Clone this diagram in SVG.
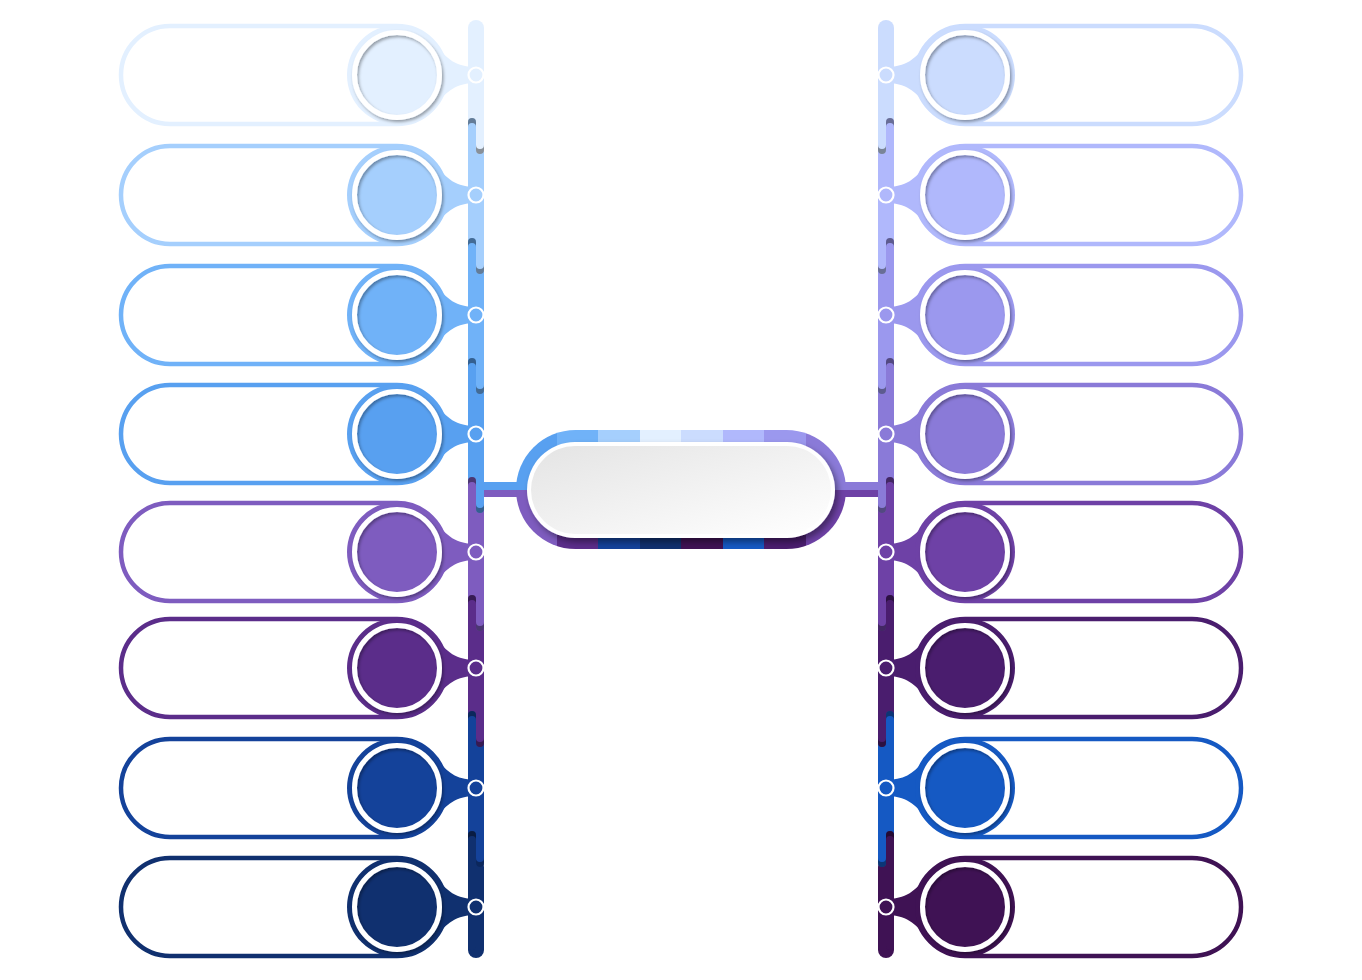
<svg xmlns="http://www.w3.org/2000/svg" xmlns:xlink="http://www.w3.org/1999/xlink" width="1362" height="980" viewBox="0 0 1362 980">
<style>
.pill{fill:#fff;stroke-width:4.5}
.ring{fill:none;stroke:#fff;stroke-width:5;filter:url(#sh)}
.node{stroke:#fff;stroke-width:2.2}
.cap{fill:#000;fill-opacity:.4}
</style>
<defs>
<filter id="sh" x="-20%" y="-20%" width="140%" height="140%"><feDropShadow dx="1.5" dy="2" stdDeviation="1.5" flood-color="#000" flood-opacity="0.35"/></filter>
<filter id="psh" x="-10%" y="-20%" width="120%" height="150%"><feDropShadow dx="3" dy="4" stdDeviation="3" flood-color="#000" flood-opacity="0.4"/></filter>
<linearGradient id="wg" x1="0" y1="0" x2="1" y2="1"><stop offset="0" stop-color="#E4E4E4"/><stop offset="1" stop-color="#FFFFFF"/></linearGradient>
<clipPath id="cp"><rect x="516" y="430" width="330" height="119" rx="59.5"/></clipPath>
<path id="ct" class="cap" d="M0,4 A4,4 0 0 1 8,4 L8,9 A4,4 0 0 0 0,9 Z"/>
<path id="cb" class="cap" d="M0,-4 A4,4 0 0 0 8,-4 L8,-9 A4,4 0 0 1 0,-9 Z"/>
</defs>
<rect width="1362" height="980" fill="#fff"/>
<g id="connectors">
<rect x="480" y="482" width="42" height="8" fill="#58A0F0"/>
<rect x="480" y="490" width="42" height="7" fill="#7E5CBF"/>
<rect x="840" y="482" width="42" height="8" fill="#8A7AD8"/>
<rect x="840" y="490" width="42" height="7" fill="#6E41A6"/>
<g id="left-bar">
<rect x="468" y="20" width="16" height="110" rx="8" fill="#E3F0FF"/>
<rect x="468" y="859" width="16" height="99" rx="8" fill="#10306F"/>
<rect x="468" y="118" width="8" height="128" rx="4" fill="#A5CFFD"/>
<rect x="468" y="238" width="8" height="128" rx="4" fill="#70B2F8"/>
<rect x="468" y="358" width="8" height="127" rx="4" fill="#58A0F0"/>
<rect x="468" y="477" width="8" height="126" rx="4" fill="#7E5CBF"/>
<rect x="468" y="595" width="8" height="124" rx="4" fill="#5B2D8A"/>
<rect x="468" y="711" width="8" height="128" rx="4" fill="#14429A"/>
<rect x="468" y="831" width="8" height="119" rx="4" fill="#10306F"/>
<rect x="476" y="739" width="8" height="128" rx="4" fill="#14429A"/>
<rect x="476" y="623" width="8" height="124" rx="4" fill="#5B2D8A"/>
<rect x="476" y="505" width="8" height="126" rx="4" fill="#7E5CBF"/>
<rect x="476" y="386" width="8" height="127" rx="4" fill="#58A0F0"/>
<rect x="476" y="266" width="8" height="128" rx="4" fill="#70B2F8"/>
<rect x="476" y="146" width="8" height="128" rx="4" fill="#A5CFFD"/>
<rect x="476" y="28" width="8" height="126" rx="4" fill="#E3F0FF"/>
<use xlink:href="#ct" x="468" y="118"/><use xlink:href="#ct" x="468" y="238"/><use xlink:href="#ct" x="468" y="358"/><use xlink:href="#ct" x="468" y="477"/><use xlink:href="#ct" x="468" y="595"/><use xlink:href="#ct" x="468" y="711"/><use xlink:href="#ct" x="468" y="831"/>
<use xlink:href="#cb" x="476" y="154"/><use xlink:href="#cb" x="476" y="274"/><use xlink:href="#cb" x="476" y="394"/><use xlink:href="#cb" x="476" y="513"/><use xlink:href="#cb" x="476" y="631"/><use xlink:href="#cb" x="476" y="747"/><use xlink:href="#cb" x="476" y="867"/>
</g>
<g id="right-bar">
<rect x="878" y="20" width="16" height="110" rx="8" fill="#CBDCFE"/>
<rect x="878" y="859" width="16" height="99" rx="8" fill="#3F1254"/>
<rect x="886" y="118" width="8" height="128" rx="4" fill="#B0B8FC"/>
<rect x="886" y="238" width="8" height="128" rx="4" fill="#9B98EE"/>
<rect x="886" y="358" width="8" height="127" rx="4" fill="#8A7AD8"/>
<rect x="886" y="477" width="8" height="126" rx="4" fill="#6E41A6"/>
<rect x="886" y="595" width="8" height="124" rx="4" fill="#4A1D6E"/>
<rect x="886" y="711" width="8" height="128" rx="4" fill="#1559C3"/>
<rect x="886" y="831" width="8" height="119" rx="4" fill="#3F1254"/>
<rect x="878" y="739" width="8" height="128" rx="4" fill="#1559C3"/>
<rect x="878" y="623" width="8" height="124" rx="4" fill="#4A1D6E"/>
<rect x="878" y="505" width="8" height="126" rx="4" fill="#6E41A6"/>
<rect x="878" y="386" width="8" height="127" rx="4" fill="#8A7AD8"/>
<rect x="878" y="266" width="8" height="128" rx="4" fill="#9B98EE"/>
<rect x="878" y="146" width="8" height="128" rx="4" fill="#B0B8FC"/>
<rect x="878" y="28" width="8" height="126" rx="4" fill="#CBDCFE"/>
<use xlink:href="#ct" x="886" y="118"/><use xlink:href="#ct" x="886" y="238"/><use xlink:href="#ct" x="886" y="358"/><use xlink:href="#ct" x="886" y="477"/><use xlink:href="#ct" x="886" y="595"/><use xlink:href="#ct" x="886" y="711"/><use xlink:href="#ct" x="886" y="831"/>
<use xlink:href="#cb" x="878" y="154"/><use xlink:href="#cb" x="878" y="274"/><use xlink:href="#cb" x="878" y="394"/><use xlink:href="#cb" x="878" y="513"/><use xlink:href="#cb" x="878" y="631"/><use xlink:href="#cb" x="878" y="747"/><use xlink:href="#cb" x="878" y="867"/>
</g>
</g>
<g id="center">
<g clip-path="url(#cp)">
<rect x="516" y="430" width="41" height="60" fill="#58A0F0"/>
<rect x="557" y="430" width="41" height="60" fill="#70B2F8"/>
<rect x="598" y="430" width="42" height="60" fill="#A5CFFD"/>
<rect x="640" y="430" width="41" height="60" fill="#E3F0FF"/>
<rect x="681" y="430" width="42" height="60" fill="#CBDCFE"/>
<rect x="723" y="430" width="41" height="60" fill="#B0B8FC"/>
<rect x="764" y="430" width="42" height="60" fill="#9B98EE"/>
<rect x="806" y="430" width="40" height="60" fill="#8A7AD8"/>
<rect x="516" y="490" width="41" height="59" fill="#7E5CBF"/>
<rect x="557" y="490" width="41" height="59" fill="#5B2D8A"/>
<rect x="598" y="490" width="42" height="59" fill="#14429A"/>
<rect x="640" y="490" width="41" height="59" fill="#10306F"/>
<rect x="681" y="490" width="42" height="59" fill="#3F1254"/>
<rect x="723" y="490" width="41" height="59" fill="#1559C3"/>
<rect x="764" y="490" width="42" height="59" fill="#4A1D6E"/>
<rect x="806" y="490" width="40" height="59" fill="#6E41A6"/>
</g>
<rect x="527" y="442" width="308" height="96" rx="48" fill="#fff" filter="url(#psh)"/>
<rect x="531" y="446" width="300" height="88" rx="44" fill="url(#wg)"/>
</g>
<g id="l0"><rect class="pill" x="121" y="26" width="325" height="98" rx="49" stroke="#E3F0FF"/><path d="M436,44 C446,59 456,67 477,67 L477,83 C456,83 446,91 436,106 Z" fill="#E3F0FF"/><circle cx="397" cy="75" r="50" fill="#E3F0FF"/><circle class="ring" cx="397" cy="75" r="42.5"/><circle class="node" cx="476" cy="75" r="7.5" fill="#E3F0FF"/></g>
<g id="l1"><rect class="pill" x="121" y="146" width="325" height="98" rx="49" stroke="#A5CFFD"/><path d="M436,164 C446,179 456,187 477,187 L477,203 C456,203 446,211 436,226 Z" fill="#A5CFFD"/><circle cx="397" cy="195" r="50" fill="#A5CFFD"/><circle class="ring" cx="397" cy="195" r="42.5"/><circle class="node" cx="476" cy="195" r="7.5" fill="#A5CFFD"/></g>
<g id="l2"><rect class="pill" x="121" y="266" width="325" height="98" rx="49" stroke="#70B2F8"/><path d="M436,284 C446,299 456,307 477,307 L477,323 C456,323 446,331 436,346 Z" fill="#70B2F8"/><circle cx="397" cy="315" r="50" fill="#70B2F8"/><circle class="ring" cx="397" cy="315" r="42.5"/><circle class="node" cx="476" cy="315" r="7.5" fill="#70B2F8"/></g>
<g id="l3"><rect class="pill" x="121" y="385" width="325" height="98" rx="49" stroke="#58A0F0"/><path d="M436,403 C446,418 456,426 477,426 L477,442 C456,442 446,450 436,465 Z" fill="#58A0F0"/><circle cx="397" cy="434" r="50" fill="#58A0F0"/><circle class="ring" cx="397" cy="434" r="42.5"/><circle class="node" cx="476" cy="434" r="7.5" fill="#58A0F0"/></g>
<g id="l4"><rect class="pill" x="121" y="503" width="325" height="98" rx="49" stroke="#7E5CBF"/><path d="M436,521 C446,536 456,544 477,544 L477,560 C456,560 446,568 436,583 Z" fill="#7E5CBF"/><circle cx="397" cy="552" r="50" fill="#7E5CBF"/><circle class="ring" cx="397" cy="552" r="42.5"/><circle class="node" cx="476" cy="552" r="7.5" fill="#7E5CBF"/></g>
<g id="l5"><rect class="pill" x="121" y="619" width="325" height="98" rx="49" stroke="#5B2D8A"/><path d="M436,637 C446,652 456,660 477,660 L477,676 C456,676 446,684 436,699 Z" fill="#5B2D8A"/><circle cx="397" cy="668" r="50" fill="#5B2D8A"/><circle class="ring" cx="397" cy="668" r="42.5"/><circle class="node" cx="476" cy="668" r="7.5" fill="#5B2D8A"/></g>
<g id="l6"><rect class="pill" x="121" y="739" width="325" height="98" rx="49" stroke="#14429A"/><path d="M436,757 C446,772 456,780 477,780 L477,796 C456,796 446,804 436,819 Z" fill="#14429A"/><circle cx="397" cy="788" r="50" fill="#14429A"/><circle class="ring" cx="397" cy="788" r="42.5"/><circle class="node" cx="476" cy="788" r="7.5" fill="#14429A"/></g>
<g id="l7"><rect class="pill" x="121" y="858" width="325" height="98" rx="49" stroke="#10306F"/><path d="M436,876 C446,891 456,899 477,899 L477,915 C456,915 446,923 436,938 Z" fill="#10306F"/><circle cx="397" cy="907" r="50" fill="#10306F"/><circle class="ring" cx="397" cy="907" r="42.5"/><circle class="node" cx="476" cy="907" r="7.5" fill="#10306F"/></g>
<g id="r0"><rect class="pill" x="916" y="26" width="325" height="98" rx="49" stroke="#CBDCFE"/><path d="M926,44 C916,59 906,67 885,67 L885,83 C906,83 916,91 926,106 Z" fill="#CBDCFE"/><circle cx="965" cy="75" r="50" fill="#CBDCFE"/><circle class="ring" cx="965" cy="75" r="42.5"/><circle class="node" cx="886" cy="75" r="7.5" fill="#CBDCFE"/></g>
<g id="r1"><rect class="pill" x="916" y="146" width="325" height="98" rx="49" stroke="#B0B8FC"/><path d="M926,164 C916,179 906,187 885,187 L885,203 C906,203 916,211 926,226 Z" fill="#B0B8FC"/><circle cx="965" cy="195" r="50" fill="#B0B8FC"/><circle class="ring" cx="965" cy="195" r="42.5"/><circle class="node" cx="886" cy="195" r="7.5" fill="#B0B8FC"/></g>
<g id="r2"><rect class="pill" x="916" y="266" width="325" height="98" rx="49" stroke="#9B98EE"/><path d="M926,284 C916,299 906,307 885,307 L885,323 C906,323 916,331 926,346 Z" fill="#9B98EE"/><circle cx="965" cy="315" r="50" fill="#9B98EE"/><circle class="ring" cx="965" cy="315" r="42.5"/><circle class="node" cx="886" cy="315" r="7.5" fill="#9B98EE"/></g>
<g id="r3"><rect class="pill" x="916" y="385" width="325" height="98" rx="49" stroke="#8A7AD8"/><path d="M926,403 C916,418 906,426 885,426 L885,442 C906,442 916,450 926,465 Z" fill="#8A7AD8"/><circle cx="965" cy="434" r="50" fill="#8A7AD8"/><circle class="ring" cx="965" cy="434" r="42.5"/><circle class="node" cx="886" cy="434" r="7.5" fill="#8A7AD8"/></g>
<g id="r4"><rect class="pill" x="916" y="503" width="325" height="98" rx="49" stroke="#6E41A6"/><path d="M926,521 C916,536 906,544 885,544 L885,560 C906,560 916,568 926,583 Z" fill="#6E41A6"/><circle cx="965" cy="552" r="50" fill="#6E41A6"/><circle class="ring" cx="965" cy="552" r="42.5"/><circle class="node" cx="886" cy="552" r="7.5" fill="#6E41A6"/></g>
<g id="r5"><rect class="pill" x="916" y="619" width="325" height="98" rx="49" stroke="#4A1D6E"/><path d="M926,637 C916,652 906,660 885,660 L885,676 C906,676 916,684 926,699 Z" fill="#4A1D6E"/><circle cx="965" cy="668" r="50" fill="#4A1D6E"/><circle class="ring" cx="965" cy="668" r="42.5"/><circle class="node" cx="886" cy="668" r="7.5" fill="#4A1D6E"/></g>
<g id="r6"><rect class="pill" x="916" y="739" width="325" height="98" rx="49" stroke="#1559C3"/><path d="M926,757 C916,772 906,780 885,780 L885,796 C906,796 916,804 926,819 Z" fill="#1559C3"/><circle cx="965" cy="788" r="50" fill="#1559C3"/><circle class="ring" cx="965" cy="788" r="42.5"/><circle class="node" cx="886" cy="788" r="7.5" fill="#1559C3"/></g>
<g id="r7"><rect class="pill" x="916" y="858" width="325" height="98" rx="49" stroke="#3F1254"/><path d="M926,876 C916,891 906,899 885,899 L885,915 C906,915 916,923 926,938 Z" fill="#3F1254"/><circle cx="965" cy="907" r="50" fill="#3F1254"/><circle class="ring" cx="965" cy="907" r="42.5"/><circle class="node" cx="886" cy="907" r="7.5" fill="#3F1254"/></g>
</svg>
